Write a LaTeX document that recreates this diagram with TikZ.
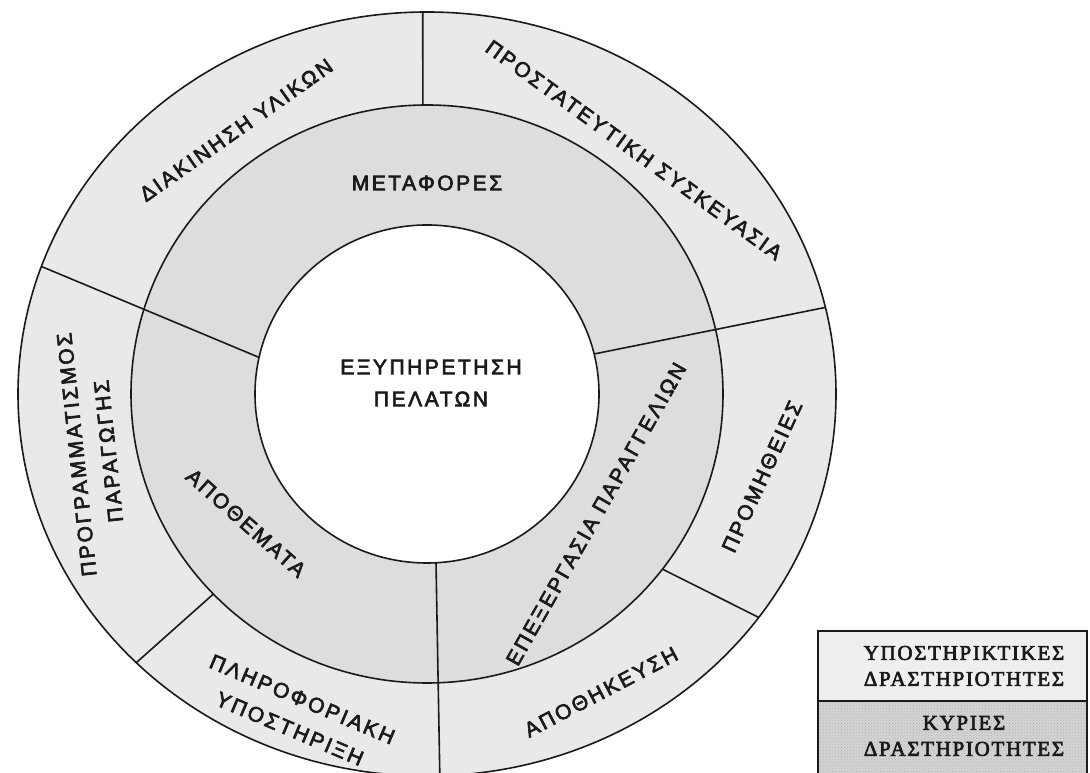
\documentclass[tikz,border=0pt]{standalone}
\usepackage{fontspec}
\setmainfont{Liberation Sans}
\newfontfamily\lsans{Liberation Sans}[LetterSpace=12,FakeBold=3]
\newfontfamily\lserif{Liberation Serif}[LetterSpace=8,FakeBold=3]
\usetikzlibrary{calc,patterns}
\definecolor{outerfill}{HTML}{E9E9E9}
\definecolor{midfill}{HTML}{DDDDDD}
\definecolor{legtop}{HTML}{EFEFEF}
\definecolor{legbot}{HTML}{D4D4D4}
\definecolor{ink}{HTML}{1A1A1A}
\begin{document}
\begin{tikzpicture}[x=1pt,y=1pt,
  ring/.style={line width=1.6pt, draw=ink},
  divider/.style={line width=1.6pt, draw=ink},
  lbl/.style={font={\lsans\fontsize{21}{32}\selectfont}, text=ink, inner sep=0pt, align=center},
  leg/.style={font={\lserif\fontsize{21}{26}\selectfont}, text=ink, inner sep=0pt, align=center}]
\clip (0,0) rectangle (1090,773);
\fill[white] (0,0) rectangle (1090,773);
\coordinate (C) at (427,379);
% rings
\draw[ring, fill=outerfill] (C) ellipse [x radius=409, y radius=382];
\draw[ring, fill=midfill] (C) ellipse [x radius=296, y radius=289];
\draw[ring, fill=white] (C) ellipse [x radius=172, y radius=169];
% divider end points
\coordinate (o1) at ($(C)+(90.6:409 and 382)$);
\coordinate (m1) at ($(C)+(90.8:296 and 289)$);
\coordinate (o2) at ($(C)+(160.5:409 and 382)$);
\coordinate (i2) at ($(C)+(167.5:172 and 169)$);
\coordinate (o3) at ($(C)+(13.1:409 and 382)$);
\coordinate (i3) at ($(C)+(13.7:172 and 169)$);
\coordinate (o4) at ($(C)+(-35.8:409 and 382)$);
\coordinate (m4) at ($(C)+(-37.3:296 and 289)$);
\coordinate (o5) at ($(C)+(-135.3:409 and 382)$);
\coordinate (m5) at ($(C)+(-136.2:296 and 289)$);
\coordinate (o6) at ($(C)+(-88.2:409 and 382)$);
\coordinate (i6) at ($(C)+(-87:172 and 169)$);
\draw[divider] (o1) -- (m1);
\draw[divider] (o2) -- (i2);
\draw[divider] (o3) -- (i3);
\draw[divider] (o4) -- (m4);
\draw[divider] (o5) -- (m5);
\draw[divider] (o6) -- (i6);
% labels
\node[lbl] (center) at (431,390) {ΕΞΥΠΗΡΕΤΗΣΗ\\ΠΕΛΑΤΩΝ};
\node[lbl] (metafores) at (427,590) {ΜΕΤΑΦΟΡΕΣ};
\node[lbl, rotate=35.2] (diakinisi) at (236,643) {ΔΙΑΚΙΝΗΣΗ ΥΛΙΚΩΝ};
\node[lbl, rotate=-35.8] (prostateftiki) at (634,623) {ΠΡΟΣΤΑΤΕΥΤΙΚΗ ΣΥΣΚΕΥΑΣΙΑ};
\node[lbl, rotate=60.5] (epexergasia) at (596,259) {ΕΠΕΞΕΡΓΑΣΙΑ ΠΑΡΑΓΓΕΛΙΩΝ};
\node[lbl, rotate=-41.5] (apothemata) at (246,250) {ΑΠΟΘΕΜΑΤΑ};
\node[lbl, rotate=96] (programmatismos) at (92.5,320) {ΠΡΟΓΡΑΜΜΑΤΙΣΜΟΣ\\ΠΑΡΑΓΩΓΗΣ};
\node[lbl, rotate=-23] (pliroforiaki) at (296,59) {ΠΛΗΡΟΦΟΡΙΑΚΗ\\ΥΠΟΣΤΗΡΙΞΗ};
\node[lbl, rotate=27.7] (apothikefsi) at (601,81) {ΑΠΟΘΗΚΕΥΣΗ};
\node[lbl, rotate=65.3] (promitheies) at (762,296.5) {ΠΡΟΜΗΘΕΙΕΣ};
% legend
\fill[legtop] (818,72) rectangle (1087,142);
\fill[legbot] (818,-5) rectangle (1087,72);
\fill[pattern=crosshatch dots, pattern color=black!30] (818,-5) rectangle (1087,72);
\draw[line width=1.6pt, draw=ink] (818,-5) -- (818,142) -- (1087,142) -- (1087,-5);
\draw[line width=2.6pt, draw=ink] (818,72) -- (1087,72);
\node[leg] (support) at (964,107) {ΥΠΟΣΤΗΡΙΚΤΙΚΕΣ\\ΔΡΑΣΤΗΡΙΟΤΗΤΕΣ};
\node[leg] (main) at (964,37) {ΚΥΡΙΕΣ\\ΔΡΑΣΤΗΡΙΟΤΗΤΕΣ};
\end{tikzpicture}
\end{document}
